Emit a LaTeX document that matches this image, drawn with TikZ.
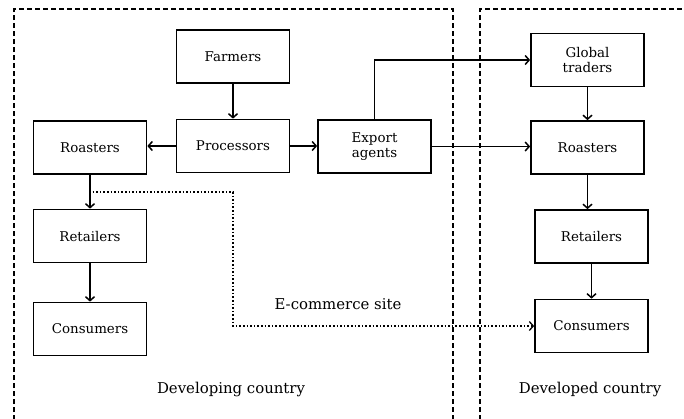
\documentclass[tikz,border=0pt]{standalone}
\usepackage{fontspec}
\setmainfont{DejaVu Serif}
\usetikzlibrary{arrows.meta}
\begin{document}
\begin{tikzpicture}[x=1pt,y=-1pt,
  box/.style={draw, line width=1.7pt, minimum width=113pt, minimum height=53pt, align=center, inner sep=2pt, font=\fontsize{13.4}{15.5}\selectfont},
  arr/.style={line width=1.7pt, -{Straight Barb[length=4pt,width=9pt,line width=1.5pt]}},
  darr/.style={line width=1.6pt, dotted, -{Straight Barb[length=4pt,width=9pt,line width=1.3pt]}},
  region/.style={line width=1.5pt, dash pattern=on 5pt off 3pt},
  lbl/.style={font=\fontsize{14.9}{17}\selectfont}]
\useasboundingbox (0,0) rectangle (684,418);
\fill[white] (0,0) rectangle (684,418);
% regions
\draw[region] (14,420) -- (14,9) -- (453,9) -- (453,420);
\draw[region] (480,420) -- (480,9) -- (690,9);
% nodes
\node[box] (farm) at (233,56.5) {Farmers};
\node[box] (proc) at (233,146) {Processors};
\node[box] (roastL) at (90,147.5) {Roasters};
\node[box] (exp) at (374.5,146.5) {Export\\agents};
\node[box] (retL) at (90,236) {Retailers};
\node[box] (consL) at (90,329) {Consumers};
\node[box] (glob) at (587.5,60) {Global\\traders};
\node[box] (roastR) at (587.5,147.5) {Roasters};
\node[box] (retR) at (591.5,236.5) {Retailers};
\node[box] (consR) at (591.5,326) {Consumers};
% connectors
\draw[arr] (farm) -- (proc);
\draw[arr] (proc.west) -- (proc.west -| roastL.east);
\draw[arr] (proc.east) -- (proc.east -| exp.west);
\draw[arr] (exp.north) |- (glob.west);
\draw[arr] (exp.east) -- (exp.east -| roastR.west);
\draw[arr] (glob) -- (roastR);
\draw[arr] (roastR.south) -- (roastR.south |- retR.north);
\draw[arr] (retR) -- (consR);
\draw[arr] (roastL.south) -- (roastL.south |- retL.north);
\draw[arr] (retL) -- (consL);
\coordinate (d0) at (89,192);
\coordinate (dc) at (233,192);
\draw[darr] (d0) -- (dc) |- (consR.west);
% labels
\node[lbl] (ecom) at (338,304) {E-commerce site};
\node[lbl] (devg) at (231,389) {Developing country};
\node[lbl] (devd) at (590,389) {Developed country};
\end{tikzpicture}
\end{document}
